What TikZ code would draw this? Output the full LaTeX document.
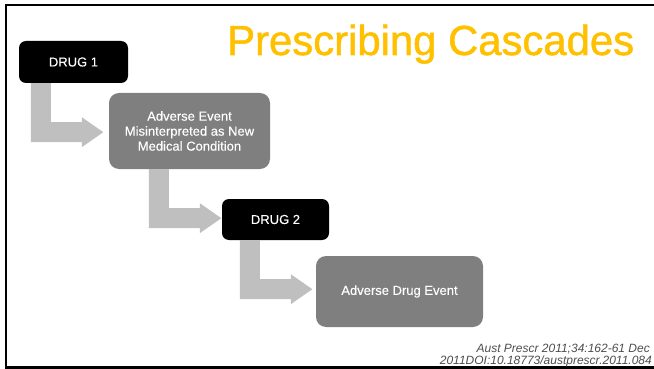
\documentclass[tikz,border=0pt]{standalone}
\usepackage{fontspec}
\setmainfont{Liberation Sans}
\newfontfamily\titlefont[FakeBold=1.2]{Liberation Sans}
\newfontfamily\boxfont[FakeBold=0.15]{Liberation Sans}
\usetikzlibrary{calc}
\definecolor{titlec}{HTML}{FFC000}
\definecolor{boxgray}{HTML}{7F7F7F}
\definecolor{arrowgray}{HTML}{BFBFBF}
\definecolor{footc}{HTML}{4D4D4D}
\tikzset{
  darkbox/.style={fill=black, rounded corners=7pt, text=white, inner sep=0pt,
    font=\boxfont\fontsize{13}{15}\selectfont, align=center},
  graybox/.style={fill=boxgray, rounded corners=10pt, text=white, inner sep=0pt,
    font=\boxfont\fontsize{13}{15}\selectfont, align=center},
  bigarrow/.style={fill=arrowgray, draw=none},
  foot/.style={font=\fontsize{12}{12}\selectfont\itshape, text=footc, inner sep=0pt, anchor=base east},
}
\newcommand{\Larrow}[1]{%
  \fill[bigarrow] (#1) -- ++(20,0) -- ++(0,39) -- ++(31,0) -- ++(0,-5)
    -- ++(21.5,15) -- ++(-21.5,15) -- ++(0,-5) -- ++(-51,0) -- cycle;}
\begin{document}
\begin{tikzpicture}[x=1pt,y=-1pt]
\useasboundingbox (0,0) rectangle (654,369);
% frame
\draw[line width=2.2pt] (654,5) -- (6,5) -- (6,367.5) -- (654,367.5);
% title
\node[anchor=base west, inner sep=0pt, text=titlec] (title) at (227,55)
  {\resizebox{407pt}{\height}{\titlefont\fontsize{42}{42}\selectfont Prescribing Cascades}};
% nodes
\node[darkbox, minimum width=109pt, minimum height=42pt] (d1) at (73.5,62) {DRUG 1};
\node[graybox, minimum width=161pt, minimum height=76pt] (ae) at (189.5,131)
  {Adverse Event\\Misinterpreted as New\\Medical Condition};
\node[darkbox, minimum width=107pt, minimum height=41pt] (d2) at (275.5,219.5) {DRUG 2};
\node[graybox, minimum width=167pt, minimum height=71pt] (ade) at (399.5,291.5) {Adverse Drug Event};
% arrows
\coordinate (s1) at ($(d1.south west)+(12,0)$);
\coordinate (s2) at ($(ae.south west)+(40,0)$);
\coordinate (s3) at ($(d2.south west)+(18,0)$);
\Larrow{s1}
\Larrow{s2}
\Larrow{s3}
% footer
\node[foot] (f1) at (650,352) {Aust Prescr 2011;34:162-61 Dec};
\node[foot] (f2) at (652,364.5) {2011DOI:10.18773/austprescr.2011.084};
\end{tikzpicture}
\end{document}
